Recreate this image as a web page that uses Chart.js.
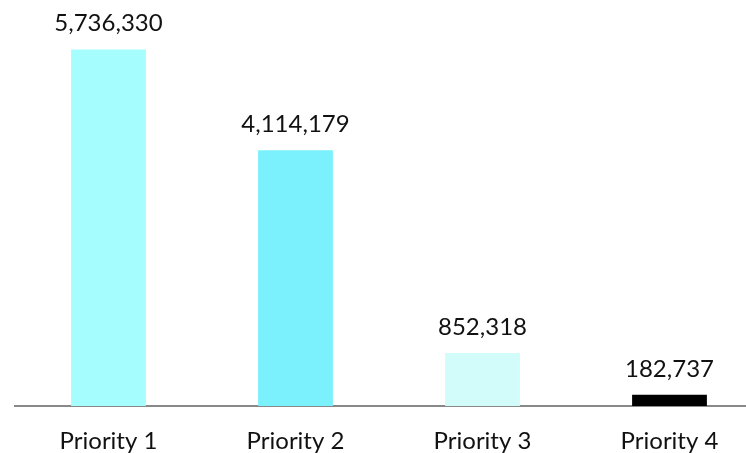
<!DOCTYPE html>
<html>
<head>
<meta charset="utf-8">
<script src="https://cdn.jsdelivr.net/npm/chart.js@4/dist/chart.umd.min.js"></script>
<style>
  html, body { margin: 0; padding: 0; background: #fff; overflow: hidden; }
  #wrap { width: 746px; height: 453px; overflow: hidden; }
</style>
</head>
<body>
<div id="wrap"><canvas id="mycanvas" width="763" height="453"></canvas></div>
<script>
var categories = ['Priority 1', 'Priority 2', 'Priority 3', 'Priority 4'];
var counts = [5736330, 4114179, 852318, 182737];
var barColors = ['#a6fdfe', '#7af1fc', '#d1fcfa', '#000000'];

var FONT = 'Lato, "Open Sans", sans-serif';

// numbers written above each bar
var valueLabels = {
    id: 'valueLabels',
    afterDatasetsDraw: function (chart) {
        var ctx = chart.ctx;
        var meta = chart.getDatasetMeta(0);
        ctx.save();
        ctx.font = '24px ' + FONT;
        ctx.fillStyle = '#111';
        ctx.textAlign = 'center';
        ctx.textBaseline = 'alphabetic';
        meta.data.forEach(function (bar, i) {
            ctx.fillText(counts[i].toLocaleString('en-US'), bar.x, bar.y - 18);
        });
        ctx.restore();
    }
};

var ctx = document.getElementById('mycanvas');

var barGraph = new Chart(ctx, {
    type: 'bar',
    data: {
        labels: categories,
        datasets: [
            {
                data: counts,
                backgroundColor: barColors,
                borderWidth: 0,
                categoryPercentage: 1,
                barPercentage: 0.4
            }
        ]
    },
    options: {
        responsive: false,
        animation: false,
        layout: { padding: { left: 15, right: 0, top: 33, bottom: 0 } },
        plugins: {
            legend: { display: false },
            tooltip: { enabled: false }
        },
        scales: {
            x: {
                grid: { display: false },
                border: { display: true, color: '#898989', width: 2 },
                ticks: {
                    color: '#111',
                    padding: 13,
                    font: { family: FONT, size: 24 }
                },
                afterFit: function (scale) {
                    scale.height = 47;
                }
            },
            y: {
                display: false,
                min: 0,
                max: 6000000
            }
        }
    },
    plugins: [valueLabels]
});
</script>
</body>
</html>
